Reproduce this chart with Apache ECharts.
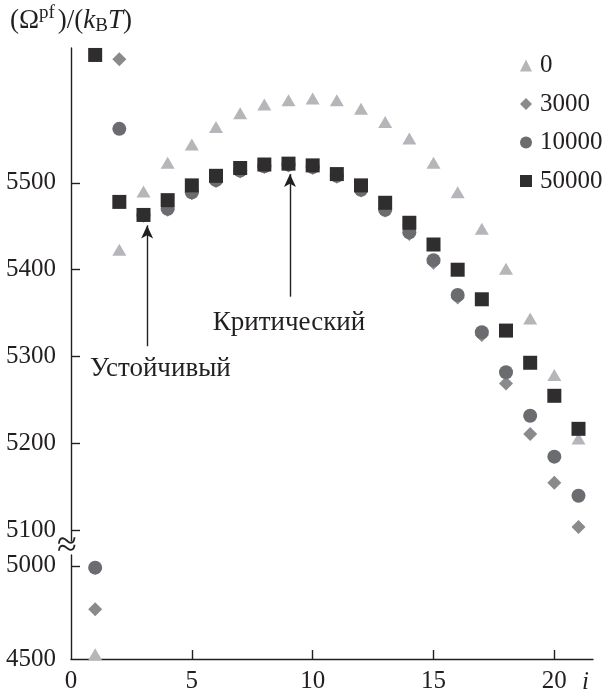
<!DOCTYPE html>
<html><head><meta charset="utf-8">
<script src="https://cdn.jsdelivr.net/npm/echarts@6/dist/echarts.min.js"></script>
<style>html,body{margin:0;padding:0;background:#fff}#c{width:604px;height:693px}</style>
</head><body><div id="c"></div>
<script>
// ---- data ----
const iValues = [1,2,3,4,5,6,7,8,9,10,11,12,13,14,15,16,17,18,19,20,21];
const seriesNames = ['0','3000','10000','50000'];
const values0     = [4525,5423,5490,5523,5544,5564,5580,5590,5595,5597,5595,5585,5570,5551,5523,5489,5447,5401,5344,5279,5206];
const values3000  = [4767,5642,5462,5469,5488,5502,5513,5518,5520,5517,5507,5491,5468,5441,5408,5368,5325,5269,5211,5155,5104];
const values10000 = [4990,5562,5463,5470,5489,5503,5514,5519,5521,5518,5508,5492,5469,5443,5411,5371,5328,5282,5232,5185,5140];
const values50000 = [5647,5478,5463,5480,5497,5508,5517,5521,5522,5520,5510,5497,5477,5454,5429,5400,5366,5330,5293,5255,5217];
const upperTicks = [5100,5200,5300,5400,5500];
const lowerTicks = [5000];
const lowerLabels = [4500,5000];
const xTicks = [5,10,15,20];
const xLabels = [0,5,10,15,20];
const breakValue = 5075;
const annotations = [
  {text:'Устойчивый', labelAt:[3.70,5286], arrowFrom:[3.15,5312], arrowTo:[3.15,5451]},
  {text:'Критический', labelAt:[9.02,5339], arrowFrom:[9.06,5369], arrowTo:[9.06,5510]}
];

// ---- styles ----
const FONT = '"Liberation Serif", "Times New Roman", serif';
const INK = '#231f20';
const styles = [
  {symbol:'triangle', size:[14,12], color:'#b5b6b9'},
  {symbol:'diamond',  size:[14,14], color:'#8a8a8c'},
  {symbol:'circle',   size:14,      color:'#6b6c6f'},
  {symbol:'rect',     size:14,      color:'#2f2d2e'}
];
const allValues = [values0, values3000, values10000, values50000];

const series = [];
allValues.forEach((vals, k) => {
  const upper = [], lower = [];
  vals.forEach((v, j) => {
    if (v >= breakValue) upper.push([iValues[j], v]); else lower.push([iValues[j], v]);
  });
  const base = {type:'scatter', name:seriesNames[k], symbol:styles[k].symbol, symbolSize:styles[k].size,
    itemStyle:{color:styles[k].color, opacity:1}, emphasis:{disabled:true}, animation:false};
  const up = Object.assign({}, base, {xAxisIndex:0, yAxisIndex:0, data:upper, z:2+k});
  if (k === 3) {
    up.markLine = {silent:true, symbol:['none','arrow'], symbolSize:[9,13], animation:false,
      lineStyle:{color:INK, width:1.4, type:'solid'}, label:{show:false},
      data: annotations.map(a => [{coord:a.arrowFrom}, {coord:a.arrowTo}])};
    up.markPoint = {silent:true, symbol:'circle', symbolSize:0, animation:false,
      label:{show:true, position:'inside', color:INK, fontFamily:FONT, fontSize:27, formatter:p=>p.name},
      data: annotations.map(a => ({name:a.text, coord:a.labelAt}))};
  }
  series.push(up);
  series.push(Object.assign({}, base, {xAxisIndex:1, yAxisIndex:1, data:lower, z:2+k}));
});

const axisLineStyle = {color:INK, width:1.4};
const labelStyle = {color:INK, fontFamily:FONT, fontSize:25, formatter:v => String(v)};

const option = {
  backgroundColor:'#fff',
  animation:false,
  grid:[
    {left:71, top:48, width:522, height:493, outerBoundsMode:'none'},
    {left:71, top:555, width:522, height:104, outerBoundsMode:'none'}
  ],
  legend:{
    orient:'vertical', left:515, top:48, itemWidth:12, itemHeight:12, itemGap:13.5,
    data:seriesNames, selectedMode:false,
    textStyle:{color:INK, fontFamily:FONT, fontSize:25, lineHeight:24, padding:[0,0,0,3]}
  },
  xAxis:[
    {gridIndex:0, type:'value', min:0, max:21.6, show:false},
    {gridIndex:1, type:'value', min:0, max:21.6,
      axisLine:{show:true, onZero:false, lineStyle:axisLineStyle},
      axisTick:{show:true, inside:true, length:9, lineStyle:axisLineStyle, customValues:xTicks},
      axisLabel:{...labelStyle, margin:10, customValues:xLabels},
      splitLine:{show:false},
      name:'i', nameLocation:'end', nameGap:-11,
      nameTextStyle:{color:INK, fontFamily:FONT, fontSize:25, fontStyle:'italic', verticalAlign:'top', padding:[11,0,0,0]}
    }
  ],
  yAxis:[
    {gridIndex:0, type:'value', min:5088, max:5655,
      axisLine:{show:true, onZero:false, lineStyle:axisLineStyle},
      axisTick:{show:true, inside:true, length:9, lineStyle:axisLineStyle, customValues:upperTicks},
      axisLabel:{...labelStyle, margin:15, customValues:upperTicks},
      splitLine:{show:false},
      name:'{a|(Ω}{sup|pf}{a|)/(}{i|k}{sub|B}{i|T}{a|)}', nameLocation:'end', nameGap:10,
      nameTextStyle:{color:INK, fontFamily:FONT, fontSize:27, padding:[0,0,0,0],
        rich:{
          a:{fontFamily:FONT, fontSize:27, color:INK},
          i:{fontFamily:FONT, fontSize:27, fontStyle:'italic', color:INK},
          sup:{fontFamily:FONT, fontSize:19, color:INK, padding:[0,3,15,0]},
          sub:{fontFamily:FONT, fontSize:19, color:INK, padding:[11,0,0,0]}
        }}
    },
    {gridIndex:1, type:'value', min:4500, max:5058,
      axisLine:{show:true, onZero:false, lineStyle:axisLineStyle},
      axisTick:{show:true, inside:true, length:9, lineStyle:axisLineStyle, customValues:lowerTicks},
      axisLabel:{...labelStyle, margin:15, customValues:lowerLabels},
      splitLine:{show:false}
    }
  ],
  graphic:[
    {type:'text', x:67, y:547, z:100,
      style:{text:'≈', fontFamily:FONT, fontSize:36, fill:INK, align:'center', verticalAlign:'middle'}}
  ],
  series: series
};
const chart = echarts.init(document.getElementById('c'), null, {renderer:'canvas'});
chart.setOption(option);
</script></body></html>
